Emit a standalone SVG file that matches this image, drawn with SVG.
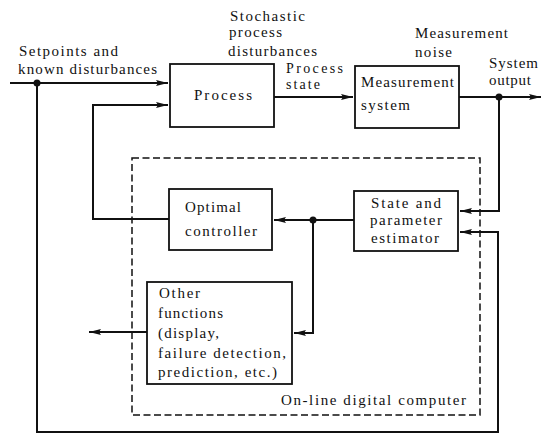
<svg xmlns="http://www.w3.org/2000/svg" width="553" height="436" viewBox="0 0 553 436">
<defs>
<style>
text{font-family:"Liberation Serif","Times New Roman",serif;font-size:15px;fill:#111;}
.sm{font-size:14px;}
.box{fill:#fff;stroke:#111;stroke-width:1.8;}
.ln{fill:none;stroke:#111;stroke-width:2;}
.dash{fill:none;stroke:#111;stroke-width:1.5;stroke-dasharray:7 3.5;}
</style>
<marker id="ah" viewBox="0 0 12 8" refX="12" refY="4" markerWidth="12" markerHeight="8" markerUnits="userSpaceOnUse" orient="auto">
<path d="M0,1 L12,4 L0,7 L2,4 Z" fill="#111"/>
</marker>
</defs>
<rect width="553" height="436" fill="#fff"/>

<g id="computer-boundary">
<rect class="dash" x="132" y="158" width="348" height="257"/>
<text x="281" y="405" textLength="185" lengthAdjust="spacing">On-line digital computer</text>
</g>

<g id="connectors">
<polyline class="ln" points="10,83 168,83" marker-end="url(#ah)"/>
<polyline class="ln" points="37,83 37,432 498,432 498,232 460,232" marker-end="url(#ah)"/>
<polyline class="ln" points="274,97 353,97" marker-end="url(#ah)"/>
<polyline class="ln" points="459,97 541,97" marker-end="url(#ah)"/>
<polyline class="ln" points="499,97 499,211 460,211" marker-end="url(#ah)"/>
<polyline class="ln" points="354,220 274,220" marker-end="url(#ah)"/>
<polyline class="ln" points="169,219 93,219 93,105 168,105" marker-end="url(#ah)"/>
<polyline class="ln" points="313,220 313,333 294,333" marker-end="url(#ah)"/>
<polyline class="ln" points="147,332 89,332" marker-end="url(#ah)"/>
<circle cx="37" cy="83" r="3.5" fill="#111"/>
<circle cx="499" cy="97" r="3.5" fill="#111"/>
<circle cx="313" cy="220" r="3.5" fill="#111"/>
</g>

<g id="labels">
<text x="19" y="56" textLength="99" lengthAdjust="spacing">Setpoints and</text>
<text x="18" y="74" textLength="139" lengthAdjust="spacing">known disturbances</text>
<text x="230" y="21" textLength="75" lengthAdjust="spacing">Stochastic</text>
<text x="229" y="37" textLength="53" lengthAdjust="spacing">process</text>
<text x="228" y="56" textLength="89" lengthAdjust="spacing">disturbances</text>
<text class="sm" x="286" y="73" textLength="57" lengthAdjust="spacing">Process</text>
<text class="sm" x="286" y="89" textLength="34" lengthAdjust="spacing">state</text>
<text x="415" y="38" textLength="93" lengthAdjust="spacing">Measurement</text>
<text x="415" y="57" textLength="37" lengthAdjust="spacing">noise</text>
<text x="489" y="68" textLength="49" lengthAdjust="spacing">System</text>
<text x="489" y="85" textLength="42" lengthAdjust="spacing">output</text>
</g>

<g id="process">
<rect class="box" x="170" y="64" width="104" height="63"/>
<text x="194" y="100" textLength="58" lengthAdjust="spacing">Process</text>
</g>

<g id="measurement-system">
<rect class="box" x="355" y="66" width="104" height="62"/>
<text x="361" y="87" textLength="93" lengthAdjust="spacing">Measurement</text>
<text x="361" y="110" textLength="49" lengthAdjust="spacing">system</text>
</g>

<g id="optimal-controller">
<rect class="box" x="169" y="189" width="103" height="61"/>
<text x="185" y="212" textLength="56" lengthAdjust="spacing">Optimal</text>
<text x="185" y="236" textLength="72" lengthAdjust="spacing">controller</text>
</g>

<g id="estimator">
<rect class="box" x="354" y="191" width="104" height="60"/>
<text x="371" y="208" textLength="70" lengthAdjust="spacing">State and</text>
<text x="370" y="225" textLength="72" lengthAdjust="spacing">parameter</text>
<text x="371" y="243" textLength="68" lengthAdjust="spacing">estimator</text>
</g>

<g id="other-functions">
<rect class="box" x="147" y="282" width="145" height="102"/>
<text x="159" y="298" textLength="41" lengthAdjust="spacing">Other</text>
<text x="158" y="318" textLength="65" lengthAdjust="spacing">functions</text>
<text x="158" y="338" textLength="61" lengthAdjust="spacing">(display,</text>
<text x="158" y="358" textLength="128" lengthAdjust="spacing">failure detection,</text>
<text x="158" y="377" textLength="119" lengthAdjust="spacing">prediction, etc.)</text>
</g>
</svg>
